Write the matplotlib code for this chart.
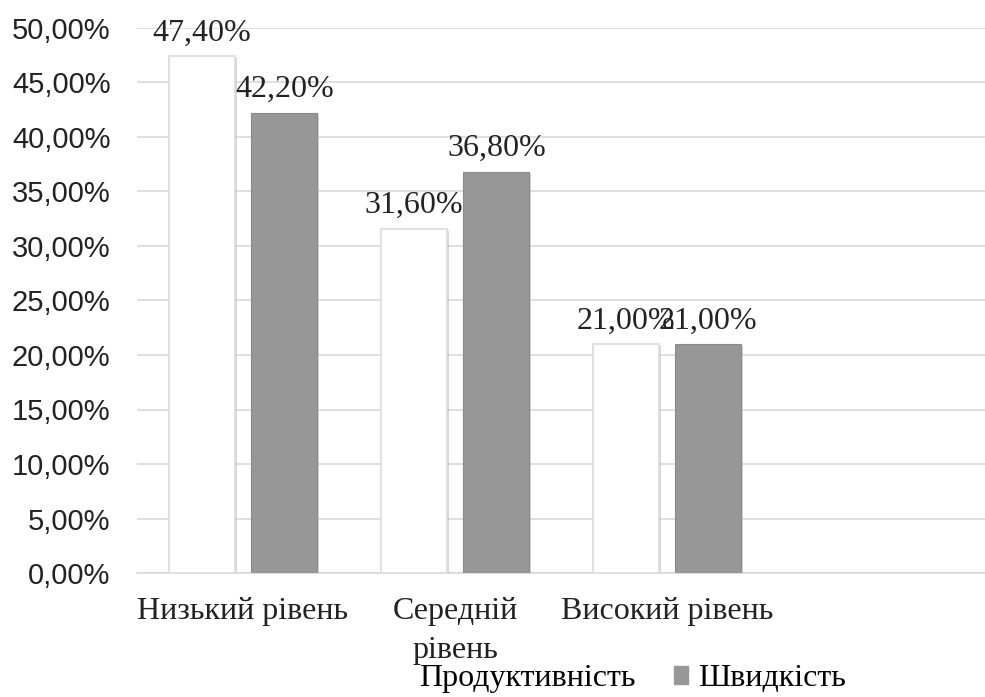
import numpy as np
import matplotlib; matplotlib.use('Agg')
import matplotlib.pyplot as plt
import matplotlib.patheffects as pe
from matplotlib.patches import Patch

categories = ['Низький рівень', 'Середній\nрівень', 'Високий рівень', '']
productivity = [47.4, 31.6, 21.0]
speed = [42.2, 36.8, 21.0]
series_names = ['Продуктивність', 'Швидкість']
yticks = np.arange(0, 50.1, 5)

serif = 'Liberation Serif'
sans = 'Liberation Sans'

fig = plt.figure(figsize=(9.85, 6.97), dpi=100)
ax = fig.add_axes([137 / 985, 124 / 697, 848 / 985, 545 / 697])

x = np.arange(len(productivity))
w = 0.31
off = 0.195
shadow = [pe.SimplePatchShadow(offset=(1.5, -1.5), shadow_rgbFace='#b0b0b0', alpha=0.5), pe.Normal()]

b1 = ax.bar(x - off, productivity, w, color='white', edgecolor='#dcdcdc', linewidth=1.2, zorder=3)
b2 = ax.bar(x + off, speed, w, color='#979797', edgecolor='#8a8a8a', linewidth=0.8, zorder=3)
for b in list(b1) + list(b2):
    b.set_path_effects(shadow)

# the two 21,00% labels overlap in the original too
for xi, v in zip(x - off, productivity):
    ax.text(xi, v + 0.8, f'{v:.2f}%'.replace('.', ','), ha='center', va='bottom',
            fontsize=23, family=serif, color='#222222', zorder=4)
for xi, v in zip(x + off, speed):
    ax.text(xi, v + 0.8, f'{v:.2f}%'.replace('.', ','), ha='center', va='bottom',
            fontsize=23, family=serif, color='#222222', zorder=4)

ax.set_xlim(-0.5, 3.5)
ax.set_ylim(0, 50)
ax.set_yticks(yticks)
ax.set_yticklabels([f'{t:.2f}%'.replace('.', ',') for t in yticks], fontsize=21, family=sans, color='#222222')
ax.set_xticks(np.arange(len(categories)))
ax.set_xticklabels(categories, fontsize=23, family=serif, color='#222222', linespacing=1.45)
ax.tick_params(length=0, pad=17)
ax.tick_params(axis='y', pad=19)
ax.grid(axis='y', color='#d9d9d9', linewidth=1.2, zorder=0)
for s in ['top', 'right', 'left']:
    ax.spines[s].set_visible(False)
ax.spines['bottom'].set_color('#d9d9d9')
ax.spines['bottom'].set_linewidth(1.2)

handles = [Patch(facecolor='white', edgecolor='white'), Patch(facecolor='#979797', edgecolor='#979797')]
fig.legend(handles, series_names, loc='lower center', bbox_to_anchor=(0.63, -0.036), ncol=2, frameon=False,
           prop={'family': serif, 'size': 23}, handlelength=0.45, handleheight=0.45, handletextpad=0.3,
           columnspacing=1.2)

fig.savefig('out.png', dpi=100)
